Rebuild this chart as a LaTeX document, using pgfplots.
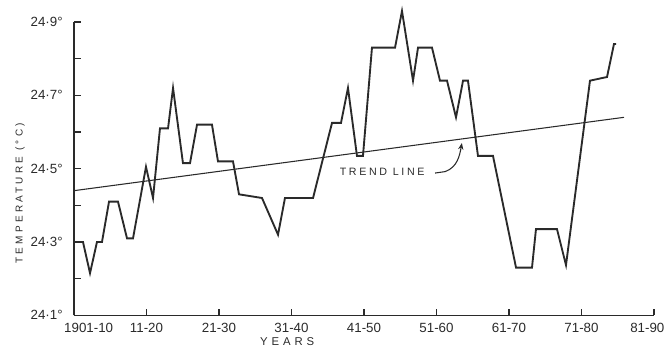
\documentclass[border=0pt]{standalone}
\usepackage{fontspec}
\setmainfont{Liberation Sans}
\usepackage{pgfplots}
\pgfplotsset{compat=1.18}
\usetikzlibrary{arrows.meta}
\definecolor{ink}{HTML}{2A2A2A}
\begin{document}
\begin{tikzpicture}
\begin{axis}[
  scale only axis, width=435pt, height=220pt,
  xmin=0, xmax=8, ymin=24.1, ymax=24.9,
  axis lines=left,
  axis line style={-, line width=1.1pt, color=ink},
  xtick={0,1,2,3,4,5,6,7,8},
  xticklabels={\hspace*{22pt}1901-10,11-20,21-30,31-40,41-50,51-60,61-70,71-80,81-90\hspace*{10pt}},
  ytick={24.1,24.3,24.5,24.7,24.9},
  yticklabels={24·1°,24·3°,24·5°,24·7°,24·9°},
  minor ytick={24.2,24.4,24.6,24.8},
  tick align=inside,
  major tick length=5pt, minor tick length=5pt,
  tick style={line width=0.9pt, color=ink},
  xticklabel style={font=\fontsize{10}{11}\selectfont, text=ink, yshift=-2pt},
  yticklabel style={font=\fontsize{10}{11}\selectfont, text=ink, xshift=-5pt},
  clip=false,
]
\addplot[line width=1.4pt, color=ink] coordinates {
(0,24.30) (0.124,24.30) (0.221,24.215) (0.317,24.30) (0.386,24.30)
(0.483,24.41) (0.607,24.41) (0.731,24.31) (0.814,24.31) (0.993,24.505)
(1.090,24.42) (1.186,24.61) (1.297,24.61) (1.366,24.72) (1.503,24.515)
(1.600,24.515) (1.697,24.62) (1.903,24.62) (1.986,24.52) (2.193,24.52)
(2.276,24.43) (2.593,24.42) (2.814,24.32) (2.910,24.42) (3.297,24.42)
(3.559,24.625) (3.683,24.625) (3.779,24.72) (3.903,24.535) (3.986,24.535)
(4.110,24.83) (4.428,24.83) (4.524,24.93) (4.676,24.74) (4.745,24.83)
(4.938,24.83) (5.048,24.74) (5.145,24.74) (5.269,24.64) (5.366,24.74)
(5.434,24.74) (5.572,24.535) (5.779,24.535) (6.097,24.23) (6.317,24.23)
(6.372,24.335) (6.662,24.335) (6.786,24.237) (7.117,24.74) (7.352,24.75)
(7.448,24.84) (7.476,24.84)
};
\addplot[line width=0.8pt, color=ink] coordinates {(0,24.44) (7.586,24.64)};
\node[font=\fontsize{8}{9}\selectfont\addfontfeature{LetterSpace=25}, text=ink]
  at (axis cs:4.25,24.49) {TREND LINE};
\draw[line width=0.8pt, color=ink, -{Stealth[length=5pt,width=4pt]}]
  (axis cs:4.98,24.488) -- (axis cs:5.12,24.492) to[out=20,in=-100] (axis cs:5.35,24.57);
\node[rotate=90, font=\fontsize{7.5}{9}\selectfont\addfontfeature{LetterSpace=32}, text=ink]
  at ([xshift=-40.5pt]axis cs:0,24.433) {TEMPERATURE (°C)};
\node[font=\fontsize{8.5}{10}\selectfont\addfontfeature{LetterSpace=35}, text=ink]
  at ([yshift=-19.5pt]axis cs:2.94,24.1) {YEARS};
\end{axis}
\pgfresetboundingbox
\path ([shift={(-55.5pt,-24.75pt)}]current axis.south west) rectangle ([shift={(8.25pt,16.5pt)}]current axis.north east);
\end{tikzpicture}
\end{document}
